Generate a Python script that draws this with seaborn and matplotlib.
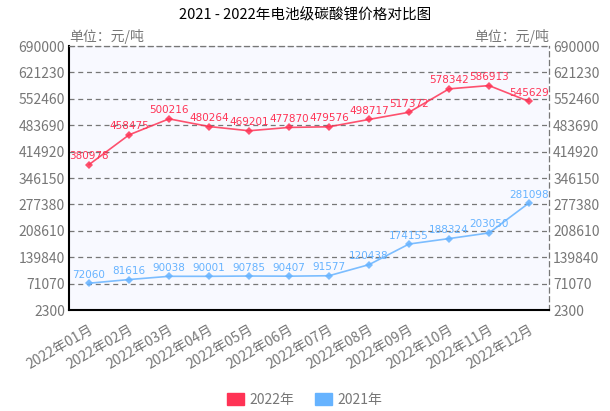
import numpy as np
import pandas as pd
import matplotlib.pyplot as plt
import seaborn as sns
from matplotlib.patches import Patch

months = ["2022年%02d月" % m for m in range(1, 13)]
price_2022 = [380978, 458475, 500216, 480264, 469201, 477870, 479576, 498717, 517372, 578342, 586913, 545629]
price_2021 = [72060, 81616, 90038, 90001, 90785, 90407, 91577, 120438, 174155, 188324, 203050, 281098]
yticks = [2300, 71070, 139840, 208610, 277380, 346150, 414920, 483690, 552460, 621230, 690000]

red = "#ff3355"
blue = "#66b3ff"

df = pd.DataFrame({
    "month": months * 2,
    "idx": list(range(12)) * 2,
    "price": price_2022 + price_2021,
    "year": ["2022年"] * 12 + ["2021年"] * 12,
})

sns.set_style("white")
plt.rcParams['font.family'] = ['Noto Sans CJK SC', 'DejaVu Sans']

fig = plt.figure(figsize=(6.1, 4.11), dpi=100)
ax = fig.add_axes([69 / 610, 1 - 310 / 411, 480 / 610, 264 / 411])
ax.set_facecolor("#f8f9ff")

sns.lineplot(data=df, x="idx", y="price", hue="year", palette={"2022年": red, "2021年": blue},
             marker="D", markersize=4, markeredgewidth=0, linewidth=1.2, alpha=0.85,
             legend=False, ax=ax)

for i in range(12):
    ax.text(i, price_2022[i] + 9000, str(price_2022[i]), color=red, fontsize=7.5,
            ha="center", va="bottom", family="DejaVu Sans")
    ax.text(i, price_2021[i] + 9000, str(price_2021[i]), color=blue, fontsize=7.5,
            ha="center", va="bottom", family="DejaVu Sans")

ax.set_xlim(-0.5, 11.5)
ax.set_ylim(2300, 690000)
ax.set_yticks(yticks)
ax.set_yticklabels([str(v) for v in yticks])
ax.grid(axis="y", color="#777777", linestyle=(0, (4, 3)), linewidth=0.9)
ax.set_xticks(range(12))
ax.set_xticklabels(months, rotation=30, ha="right", rotation_mode="anchor")
ax.tick_params(axis="x", colors="#777777", labelsize=10, length=3, width=0.6, pad=6)
ax.tick_params(axis="y", colors="#777777", labelsize=10, length=0, pad=3)
ax.tick_params(axis="y", which="both", labelright=True, right=False)
ax.set_xlabel("")
ax.set_ylabel("")

for side in ["left", "bottom"]:
    ax.spines[side].set_color("black")
    ax.spines[side].set_linewidth(1.5)
for side in ["right", "top"]:
    ax.spines[side].set_color("#777777")
    ax.spines[side].set_linestyle((0, (4, 3)))
    ax.spines[side].set_linewidth(0.9)

fig.text(0.5, 1 - 15 / 411, "2021 - 2022年电池级碳酸锂价格对比图", ha="center", va="center",
         fontsize=10.5, color="black")
fig.text(69 / 610, 1 - 44 / 411, "单位：元/吨", ha="left", va="bottom", fontsize=10, color="#777777")
fig.text(549 / 610, 1 - 44 / 411, "单位：元/吨", ha="right", va="bottom", fontsize=10, color="#777777")

handles = [Patch(color=red, label="2022年"), Patch(color=blue, label="2021年")]
fig.legend(handles=handles, loc="center", bbox_to_anchor=(0.5, 1 - 400 / 411), ncol=2,
           frameon=False, fontsize=10, handlelength=1.2, handleheight=0.9, columnspacing=1.5,
           labelcolor="#777777", handletextpad=0.4)

fig.savefig("out.png", dpi=100)
